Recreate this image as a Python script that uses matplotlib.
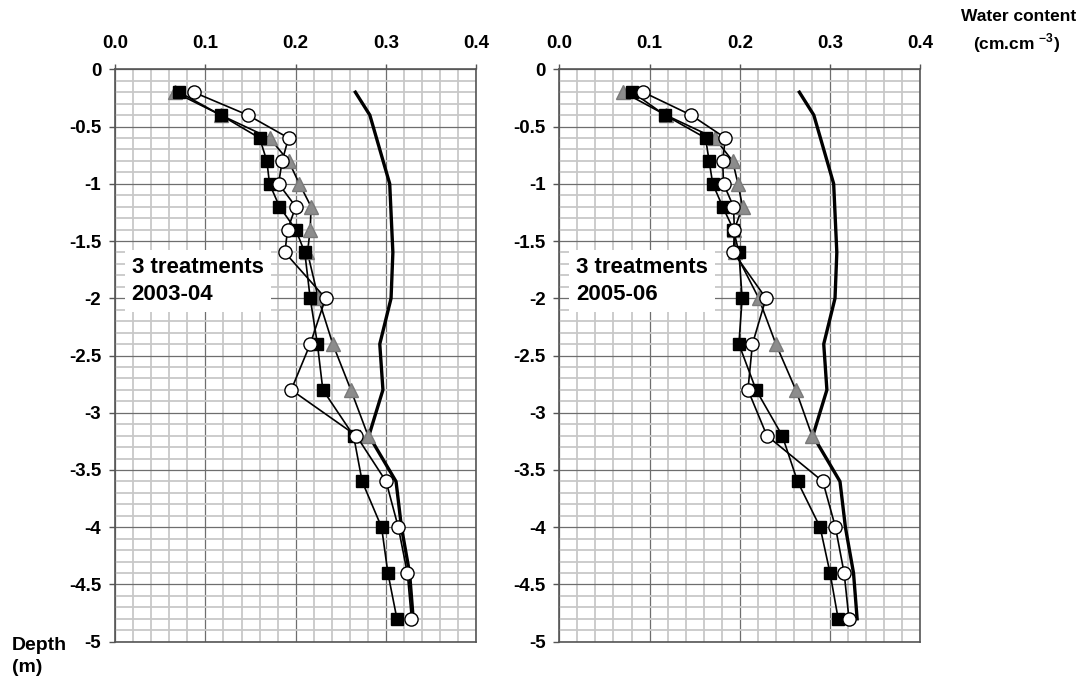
"""
soil water content profiles for 3 treatments, two seasons side by side
"""
import numpy as np
import matplotlib.pyplot as plt
from matplotlib.ticker import MultipleLocator

plt.rcParams['font.family'] = ['Liberation Sans', 'DejaVu Sans']
plt.rcParams['font.weight'] = 'bold'
plt.rcParams['mathtext.fontset'] = 'custom'
plt.rcParams['mathtext.rm'] = 'Liberation Sans:bold'
plt.rcParams['mathtext.bf'] = 'Liberation Sans:bold'

# depths (m)
depth = [-0.2, -0.4, -0.6, -0.8, -1.0, -1.2, -1.4, -1.6,
         -2.0, -2.4, -2.8, -3.2, -3.6, -4.0, -4.4, -4.8]
depth_tri = depth[:12]
depth_ref = [-0.2, -0.4, -1.0, -1.6, -2.0, -2.4, -2.8, -3.2, -3.6, -4.0, -4.4, -4.8]

# upper reference profile (thick line), same in both seasons
ref_profile = [0.266, 0.282, 0.304, 0.3075, 0.3055, 0.293, 0.2965, 0.281,
               0.311, 0.317, 0.326, 0.330]

# 2003-04
sq_0304 = [0.071, 0.117, 0.160, 0.168, 0.171, 0.182, 0.200, 0.210,
           0.216, 0.224, 0.230, 0.264, 0.2735, 0.295, 0.302, 0.312]
tri_0304 = [0.066, 0.117, 0.171, 0.192, 0.204, 0.217, 0.216, 0.213,
            0.225, 0.241, 0.261, 0.280]
circ_0304 = [0.087, 0.147, 0.192, 0.185, 0.181, 0.200, 0.191, 0.188,
             0.233, 0.216, 0.195, 0.267, 0.300, 0.3135, 0.3235, 0.328]

# 2005-06
sq_0506 = [0.081, 0.117, 0.162, 0.166, 0.170, 0.181, 0.193, 0.199,
           0.2026, 0.199, 0.218, 0.247, 0.264, 0.289, 0.300, 0.309]
tri_0506 = [0.071, 0.118, 0.172, 0.192, 0.198, 0.203, 0.194, 0.195,
            0.221, 0.240, 0.262, 0.280]
circ_0506 = [0.093, 0.146, 0.184, 0.181, 0.182, 0.193, 0.194, 0.193,
             0.229, 0.214, 0.209, 0.230, 0.292, 0.306, 0.3156, 0.321]

x_ticks = [0.0, 0.1, 0.2, 0.3, 0.4]
x_labels = ['0.0', '0.1', '0.2', '0.3', '0.4']
y_ticks = [0, -0.5, -1, -1.5, -2, -2.5, -3, -3.5, -4, -4.5, -5]
y_labels = ['0', '-0.5', '-1', '-1.5', '-2', '-2.5', '-3', '-3.5', '-4', '-4.5', '-5']


def setup_axes(ax):
    ax.set_xlim(0, 0.4)
    ax.set_ylim(-5, 0)
    ax.xaxis.tick_top()
    ax.set_xticks(x_ticks)
    ax.set_xticklabels(x_labels)
    ax.set_yticks(y_ticks)
    ax.set_yticklabels(y_labels)
    ax.xaxis.set_minor_locator(MultipleLocator(0.02))
    ax.yaxis.set_minor_locator(MultipleLocator(0.1))
    ax.grid(which='minor', color='#c8c8c8', linewidth=1.3, zorder=0)
    ax.grid(which='major', color='#6e6e6e', linewidth=0.9, zorder=0)
    ax.set_axisbelow(True)
    ax.tick_params(axis='x', which='major', length=3.5, width=1, pad=9,
                   labelsize=13.5, color='#555555')
    ax.tick_params(axis='y', which='major', length=4, width=1, pad=6,
                   labelsize=13.5, color='#555555')
    ax.tick_params(which='minor', length=0)
    for sp in ax.spines.values():
        sp.set_color('#555555')
        sp.set_linewidth(1.2)


def plot_panel(ax, sq, tri, circ, label):
    setup_axes(ax)
    ax.plot(ref_profile, depth_ref, color='black', linewidth=2.4, zorder=3)
    ax.plot(tri, depth_tri, color='black', linewidth=1.2, marker='^',
            markersize=9.5, markerfacecolor='#8c8c8c', markeredgecolor='#7a7a7a',
            zorder=4)
    ax.plot(sq, depth, color='black', linewidth=1.2, marker='s',
            markersize=9, markerfacecolor='black', markeredgecolor='black',
            zorder=5)
    ax.plot(circ, depth, color='black', linewidth=1.2, marker='o',
            markersize=9.5, markerfacecolor='white', markeredgecolor='black',
            markeredgewidth=1.0, zorder=6)
    ax.text(0.0185, -1.85, '3 treatments\n' + label, fontsize=16,
            fontweight='bold', ha='left', va='center', linespacing=1.42,
            bbox=dict(facecolor='white', edgecolor='none', pad=5), zorder=7)


def main():
    fig = plt.figure(figsize=(10.76, 6.78), dpi=100)
    ax1 = fig.add_axes([0.1069, 0.0535, 0.3359, 0.8443])
    ax2 = fig.add_axes([0.5198, 0.0535, 0.3355, 0.8443])

    plot_panel(ax1, sq_0304, tri_0304, circ_0304, '2003-04')
    plot_panel(ax2, sq_0506, tri_0506, circ_0506, '2005-06')

    fig.text(0.9465, 0.976, 'Water content', fontsize=12.5, fontweight='bold',
             ha='center', va='center')
    fig.text(0.9447, 0.937, r'(cm.cm $^{-3}$)', fontsize=12.5, fontweight='bold',
             ha='center', va='center')
    fig.text(0.011, 0.048, 'Depth', fontsize=14, fontweight='bold',
             ha='left', va='center')
    fig.text(0.011, 0.015, '(m)', fontsize=14, fontweight='bold',
             ha='left', va='center')

    fig.savefig('out.png', dpi=100)
    plt.close(fig)


if __name__ == '__main__':
    main()
